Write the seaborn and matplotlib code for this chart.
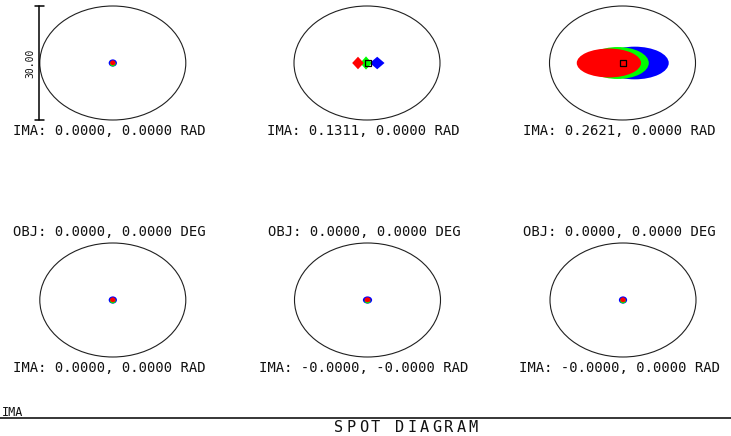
import numpy as np
import pandas as pd
import matplotlib
matplotlib.use("Agg")
import matplotlib.pyplot as plt
import matplotlib.patches as mpatches
from matplotlib.lines import Line2D
import seaborn as sns

###############################################################################
# data (micrometres, relative to each field's reference point)
###############################################################################
ima_labels = ["IMA: 0.0000, 0.0000 RAD", "IMA: 0.1311, 0.0000 RAD",
              "IMA: 0.2621, 0.0000 RAD", "IMA: 0.0000, 0.0000 RAD",
              "IMA: -0.0000, -0.0000 RAD", "IMA: -0.0000, 0.0000 RAD"]
obj_labels = ["", "", "", "OBJ: 0.0000, 0.0000 DEG",
              "OBJ: 0.0000, 0.0000 DEG", "OBJ: 0.0000, 0.0000 DEG"]
wave_colors = ["#0000ff", "#00ff00", "#ff0000"]   # drawn blue, green, red

spot_dx = [[0, 0, 0], [2.1, -0.2, -1.85], [2.5, -1.0, -2.8],
           [0, 0, 0], [0, 0, 0], [0, 0, 0]]
spot_dy = [[0, -0.2, 0.05], [0, 0, 0], [0, 0, 0],
           [0, -0.2, 0.05], [0, -0.2, 0.05], [0, -0.2, 0.05]]
spot_rx = [[0.85, 0.6, 0.55], [1.5, 1.2, 1.2], [7.0, 6.4, 6.6],
           [0.85, 0.6, 0.55], [0.95, 0.6, 0.6], [0.85, 0.6, 0.55]]
spot_ry = [[0.95, 0.7, 0.65], [1.65, 1.75, 1.65], [4.3, 4.2, 3.8],
           [0.95, 0.7, 0.65], [0.95, 0.7, 0.65], [0.95, 0.7, 0.65]]
spot_shape = ["o", "D", "o", "o", "o", "o"]

centroid_x = [None, 0.2, 0.1, None, None, None]
circle_diam = 30.0
scale_label = "30.00"
title = "SPOT DIAGRAM"

###############################################################################
# layout
###############################################################################
W, H = 731, 436
sx, sy = 73 / 15, 57 / 15          # px per micrometre
aw, ah = 170, 130
centers = [(112.8, 63), (367, 63), (622.5, 63),
           (112.8, 300), (367.5, 300), (623, 300)]

sns.set_style("white")
plt.rcParams["font.family"] = ["DejaVu Sans Mono", "DejaVu Sans"]

fig = plt.figure(figsize=(W / 100, H / 100), dpi=100)
fig.patch.set_facecolor("white")

for i, (cx, cy) in enumerate(centers):
    ax = fig.add_axes([(cx - aw / 2) / W, (H - cy - ah / 2) / H, aw / W, ah / H])
    ax.set_xlim(-aw / 2 / sx, aw / 2 / sx)
    ax.set_ylim(-ah / 2 / sy, ah / 2 / sy)
    ax.axis("off")

    ax.add_patch(mpatches.Ellipse((0, 0), circle_diam, circle_diam, fill=False,
                                  ec="#202020", lw=0.8))

    for k, col in enumerate(wave_colors):
        x, y = spot_dx[i][k], spot_dy[i][k]
        rx, ry = spot_rx[i][k], spot_ry[i][k]
        if spot_shape[i] == "D":
            p = mpatches.Polygon([(x - rx, y), (x, y + ry), (x + rx, y), (x, y - ry)],
                                 closed=True, fc=col, ec="none")
        else:
            p = mpatches.Ellipse((x, y), 2 * rx, 2 * ry, fc=col, ec="none")
        ax.add_patch(p)

    if centroid_x[i] is not None:
        df = pd.DataFrame({"x": [centroid_x[i]], "y": [0.0]})
        sns.scatterplot(data=df, x="x", y="y", ax=ax, marker="s", s=16,
                        facecolor="none", edgecolor="black", linewidth=0.9,
                        legend=False, zorder=5)
        ax.set_xlabel("")
        ax.set_ylabel("")
        ax.axis("off")

    ax.text(0.5 - 3.5 / aw, 0.5 - 68 / ah, ima_labels[i], transform=ax.transAxes,
            ha="center", va="center", fontsize=10, color="#111111")
    if obj_labels[i]:
        ax.text(0.5 - 3.5 / aw, 0.5 + 68 / ah, obj_labels[i], transform=ax.transAxes,
                ha="center", va="center", fontsize=10, color="#111111")

    if i == 0:
        bx = (39.3 - cx) / sx
        half = circle_diam / 2
        ax.plot([bx, bx], [-half, half], color="black", lw=1.1, clip_on=False)
        for yy in (-half, half):
            ax.plot([(35 - cx) / sx, (44.3 - cx) / sx], [yy, yy], color="black",
                    lw=1.1, clip_on=False)
        ax.text((30 - cx) / sx, 0, scale_label, rotation=90, ha="center",
                va="center", fontsize=7, color="#111111", clip_on=False)

# footer
fig.add_artist(Line2D([0, 1], [(H - 418) / H, (H - 418) / H], color="black",
                      lw=1.1, transform=fig.transFigure))
fig.text(2 / W, (H - 412) / H, "IMA", ha="left", va="center", fontsize=8.5,
         color="#111111")
for j, ch in enumerate(title):
    fig.text((333 + 12.2 * j + 6) / W, (H - 427) / H, ch, ha="center",
             va="center", fontsize=11, color="#111111")

fig.savefig("out.png", dpi=100, facecolor="white")
